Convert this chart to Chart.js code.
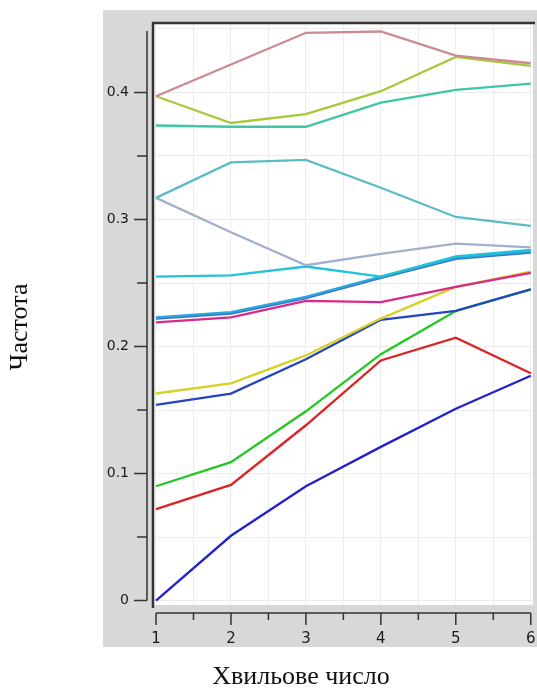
<!DOCTYPE html>
<html>
<head>
<meta charset="utf-8">
<script src="https://cdn.jsdelivr.net/npm/chart.js@4/dist/chart.umd.min.js"></script>
<style>
  html, body { margin: 0; padding: 0; background: #fff; }
  #wrap { width: 537px; height: 690px; }
</style>
</head>
<body>
<div id="wrap"><canvas id="graphCanvas"></canvas></div>
<script>
// wave number (x) and frequency values
let xValues = [1, 2, 3, 4, 5, 6];
let xTickLabels = ["1", "2", "3", "4", "5", "6"];
let yTickLabels = ["0", "0.1", "0.2", "0.3", "0.4"];
let xTitle = "Хвильове число";
let yTitle = "Частота";

let pinkLine = [0.397, 0.422, 0.447, 0.448, 0.429, 0.423];
let limeLine = [0.397, 0.376, 0.383, 0.401, 0.428, 0.421];
let seaLine = [0.374, 0.373, 0.373, 0.392, 0.402, 0.407];
let tealLine = [0.317, 0.345, 0.347, 0.325, 0.302, 0.295];
let lavenderLine = [0.317, 0.29, 0.264, 0.273, 0.281, 0.278];
let cyanLine = [0.255, 0.256, 0.263, 0.255, 0.271, 0.276];
let skyLine = [0.223, 0.227, 0.239, 0.255, 0.27, 0.275];
let blueLine = [0.222, 0.226, 0.238, 0.254, 0.269, 0.274];
let magentaLine = [0.219, 0.223, 0.236, 0.235, 0.247, 0.258];
let yellowLine = [0.163, 0.171, 0.193, 0.222, 0.247, 0.259];
let navyLine = [0.154, 0.163, 0.19, 0.221, 0.228, 0.245];
let greenLine = [0.09, 0.109, 0.149, 0.194, 0.228, 0.245];
let redLine = [0.072, 0.091, 0.138, 0.189, 0.207, 0.179];
let deepBlueLine = [0, 0.051, 0.09, 0.121, 0.151, 0.177];

let seriesList = [
  [pinkLine, "#cc8a92"],
  [limeLine, "#a6c93a"],
  [seaLine, "#3fc6a6"],
  [tealLine, "#5cbcc6"],
  [lavenderLine, "#a2b0cc"],
  [cyanLine, "#22c2d8"],
  [skyLine, "#2aa6dc"],
  [blueLine, "#3a74c8"],
  [magentaLine, "#d82a88"],
  [yellowLine, "#d8d024"],
  [navyLine, "#2446c0"],
  [greenLine, "#22c822"],
  [redLine, "#dc2222"],
  [deepBlueLine, "#2222cc"],
];

function stepValues(from, to, step) {
  let arr = [];
  for (let v = from; v <= to + 1e-9; v += step) arr.push(Math.round(v * 1000) / 1000);
  return arr;
}

//グレーの背景・枠・離れた軸を描く
const panelPlugin = {
  id: "panel",
  beforeDraw(chart) {
    const ctx = chart.ctx;
    const a = chart.chartArea;
    ctx.save();
    ctx.fillStyle = "#d8d8d8";
    ctx.fillRect(103, 10, 434, 637);
    ctx.fillStyle = "#fff";
    ctx.fillRect(a.left, a.top, a.right - a.left, a.bottom - a.top);
    ctx.restore();
  },
  afterDraw(chart) {
    const ctx = chart.ctx;
    const a = chart.chartArea;
    const xs = chart.scales.x;
    const ys = chart.scales.y;
    ctx.save();
    ctx.strokeStyle = "#333";
    ctx.lineWidth = 2.5;
    ctx.beginPath();
    ctx.moveTo(a.left, a.bottom + 3);
    ctx.lineTo(a.left, a.top);
    ctx.lineTo(a.right + 2, a.top);
    ctx.stroke();

    ctx.lineWidth = 1.5;
    // y axis
    let ax = a.left - 6;
    ctx.beginPath();
    ctx.moveTo(ax, ys.getPixelForValue(0));
    ctx.lineTo(ax, a.top + 8);
    stepValues(0, 0.4, 0.05).forEach((v, i) => {
      let py = ys.getPixelForValue(v);
      ctx.moveTo(ax, py);
      ctx.lineTo(ax - (i % 2 == 0 ? 13 : 10), py);
    });
    ctx.stroke();
    // x axis
    let ay = a.bottom + 8;
    ctx.beginPath();
    ctx.moveTo(xs.getPixelForValue(1), ay);
    ctx.lineTo(xs.getPixelForValue(6), ay);
    stepValues(1, 6, 0.5).forEach((v, i) => {
      let px = xs.getPixelForValue(v);
      ctx.moveTo(px, ay);
      ctx.lineTo(px, ay + (i % 2 == 0 ? 12 : 7));
    });
    ctx.stroke();

    ctx.fillStyle = "#111";
    ctx.font = '26px "Liberation Serif"';
    ctx.textAlign = "center";
    ctx.textBaseline = "middle";
    ctx.fillText(xTitle, 301, 677);
    ctx.translate(20, 327);
    ctx.rotate(-Math.PI / 2);
    ctx.fillText(yTitle, 0, 0);
    ctx.restore();
  },
};

let datasets = seriesList.map((s) => ({
  data: xValues.map((x, i) => ({ x: x, y: s[0][i] })),
  borderColor: s[1],
  borderWidth: 2.3,
  pointRadius: 0,
  fill: false,
  tension: 0,
}));

let options = {
  responsive: true,
  maintainAspectRatio: false,
  animation: false,
  layout: { padding: { top: 23, right: 4, bottom: 0, left: 0 } },
  plugins: { legend: { display: false }, tooltip: { enabled: false } },
  scales: {
    x: {
      type: "linear",
      min: 0.96,
      max: 6.03,
      afterBuildTicks: (s) => { s.ticks = stepValues(1, 6, 0.5).map((v) => ({ value: v })); },
      afterFit: (s) => {
        s.height = 85;
        s.paddingLeft = 0;
        s.paddingRight = 0;
      },
      border: { display: false },
      grid: { color: "#ececec", lineWidth: 1, drawTicks: false },
      ticks: {
        padding: 25,
        color: "#1a1a1a",
        font: { family: '"DejaVu Sans"', size: 15 },
        autoSkip: false,
        maxRotation: 0,
        callback: (v) => (Number.isInteger(v) ? xTickLabels[v - 1] : ""),
      },
    },
    y: {
      type: "linear",
      min: -0.0035,
      max: 0.4547,
      afterBuildTicks: (s) => { s.ticks = stepValues(0, 0.45, 0.05).map((v) => ({ value: v })); },
      afterFit: (s) => {
        s.width = 153;
        s.paddingTop = 0;
        s.paddingBottom = 0;
      },
      border: { display: false },
      grid: { color: "#ececec", lineWidth: 1, drawTicks: false },
      ticks: {
        padding: 24,
        color: "#1a1a1a",
        font: { family: '"DejaVu Sans"', size: 14 },
        autoSkip: false,
        callback: (v) => {
          let k = Math.round(v * 10);
          return Math.abs(v * 10 - k) < 1e-6 && k < yTickLabels.length ? yTickLabels[k] : "";
        },
      },
    },
  },
};

new Chart(document.getElementById("graphCanvas"), {
  type: "line",
  data: { datasets: datasets },
  options: options,
  plugins: [panelPlugin],
});
</script>
</body>
</html>
